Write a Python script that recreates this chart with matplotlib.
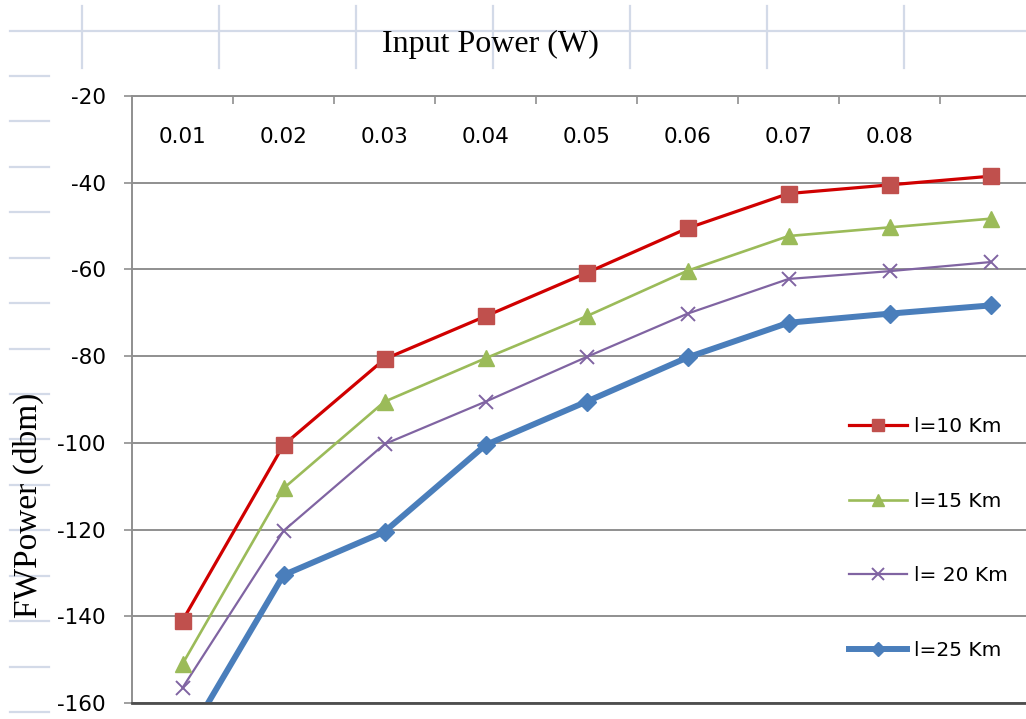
import matplotlib.pyplot as plt
from matplotlib.lines import Line2D

plt.rcParams['axes.unicode_minus'] = False

# input power categories (W)
power = ['0.01', '0.02', '0.03', '0.04', '0.05', '0.06', '0.07', '0.08', '0.09']
power_labels = ['0.01', '0.02', '0.03', '0.04', '0.05', '0.06', '0.07', '0.08', '']

# FWM power (dbm) per fibre length
fw_10km = [-141, -100.5, -80.7, -70.8, -60.8, -50.5, -42.5, -40.5, -38.5]
fw_15km = [-151, -110.5, -90.5, -80.5, -70.8, -60.3, -52.3, -50.3, -48.3]
fw_20km = [-156.5, -120.3, -100.3, -90.5, -80.2, -70.2, -62.2, -60.4, -58.3]
fw_25km = [-170, -130.5, -120.5, -100.5, -90.5, -80.3, -72.3, -70.2, -68.3]

y_ticks = [-160, -140, -120, -100, -80, -60, -40, -20]

W, H = 1026, 719
fig = plt.figure(figsize=(W / 100, H / 100), dpi=100)
fig.patch.set_facecolor('white')

# faint sheet grid behind the chart
sheet = '#D3DAE8'
fig.add_artist(Line2D([10 / W, 1], [1 - 30.5 / H] * 2, color=sheet, lw=1.6,
                      transform=fig.transFigure))
for k in range(7):
    x = (82 + 137 * k) / W
    fig.add_artist(Line2D([x, x], [1 - 6 / H, 1 - 68 / H], color=sheet, lw=1.6,
                          transform=fig.transFigure))
for k in range(15):
    y = 1 - (76 + 45.43 * k) / H
    fig.add_artist(Line2D([10 / W, 49 / W], [y, y], color=sheet, lw=1.6,
                          transform=fig.transFigure))

ax = fig.add_axes([132 / W, 16 / H, 909 / W, 607 / H])
x = range(len(power))

ax.plot(x, fw_10km, color='#D00000', lw=2.3, marker='s', ms=11,
        mfc='#C0504D', mec='#C0504D', label='l=10 Km', zorder=5)
ax.plot(x, fw_15km, color='#9BBB59', lw=1.9, marker='^', ms=11,
        mfc='#9BBB59', mec='#9BBB59', label='l=15 Km', zorder=4)
ax.plot(x, fw_20km, color='#8064A2', lw=1.6, marker='x', ms=10, mew=1.4,
        label='l= 20 Km', zorder=3)
ax.plot(x, fw_25km, color='#4A7EBB', lw=4.3, marker='D', ms=9,
        mfc='#4A7EBB', mec='#4A7EBB', label='l=25 Km', zorder=2)

ax.set_xlim(-0.5, len(power) - 0.5)
ax.set_ylim(-160, -20)

grid = '#8F8F8F'
ax.set_yticks(y_ticks)
ax.yaxis.grid(True, color=grid, lw=1.4)
ax.set_axisbelow(True)
ax.tick_params(axis='y', direction='out', length=6, width=1.2, color=grid,
               pad=13, labelsize=15.5)

# category axis sits along the top line, labels drop inside the plot
ax.xaxis.tick_top()
ax.set_xticks(list(x))
ax.set_xticklabels(power_labels)
ax.set_xticks([i + 0.5 for i in range(len(power) - 1)], minor=True)
ax.tick_params(axis='x', which='major', length=0, pad=-37, labelsize=15.5)
ax.tick_params(axis='x', which='minor', direction='in', length=6, width=1.2,
               color=grid)

for side in ['left', 'top']:
    ax.spines[side].set_color(grid)
    ax.spines[side].set_linewidth(1.4)
ax.spines['bottom'].set_color('#4D4D4D')
ax.spines['bottom'].set_linewidth(2)
ax.spines['right'].set_visible(False)

fig.legend(loc='center left', bbox_to_anchor=(849 / W, 1 - 538.5 / H),
           frameon=False, fontsize=14.5, labelspacing=2.75, handlelength=2.9,
           handletextpad=0.35, borderpad=0, borderaxespad=0, markerscale=0.8)

fig.text(490 / W, 1 - 52 / H, 'Input Power (W)', ha='center', va='baseline',
         family='Liberation Serif', fontsize=23)
fig.text(28 / W, 1 - 505 / H, 'FWPower (dbm)', ha='center', va='center',
         rotation=90, family='Liberation Serif', fontsize=24)

fig.savefig('out.png', dpi=100)
